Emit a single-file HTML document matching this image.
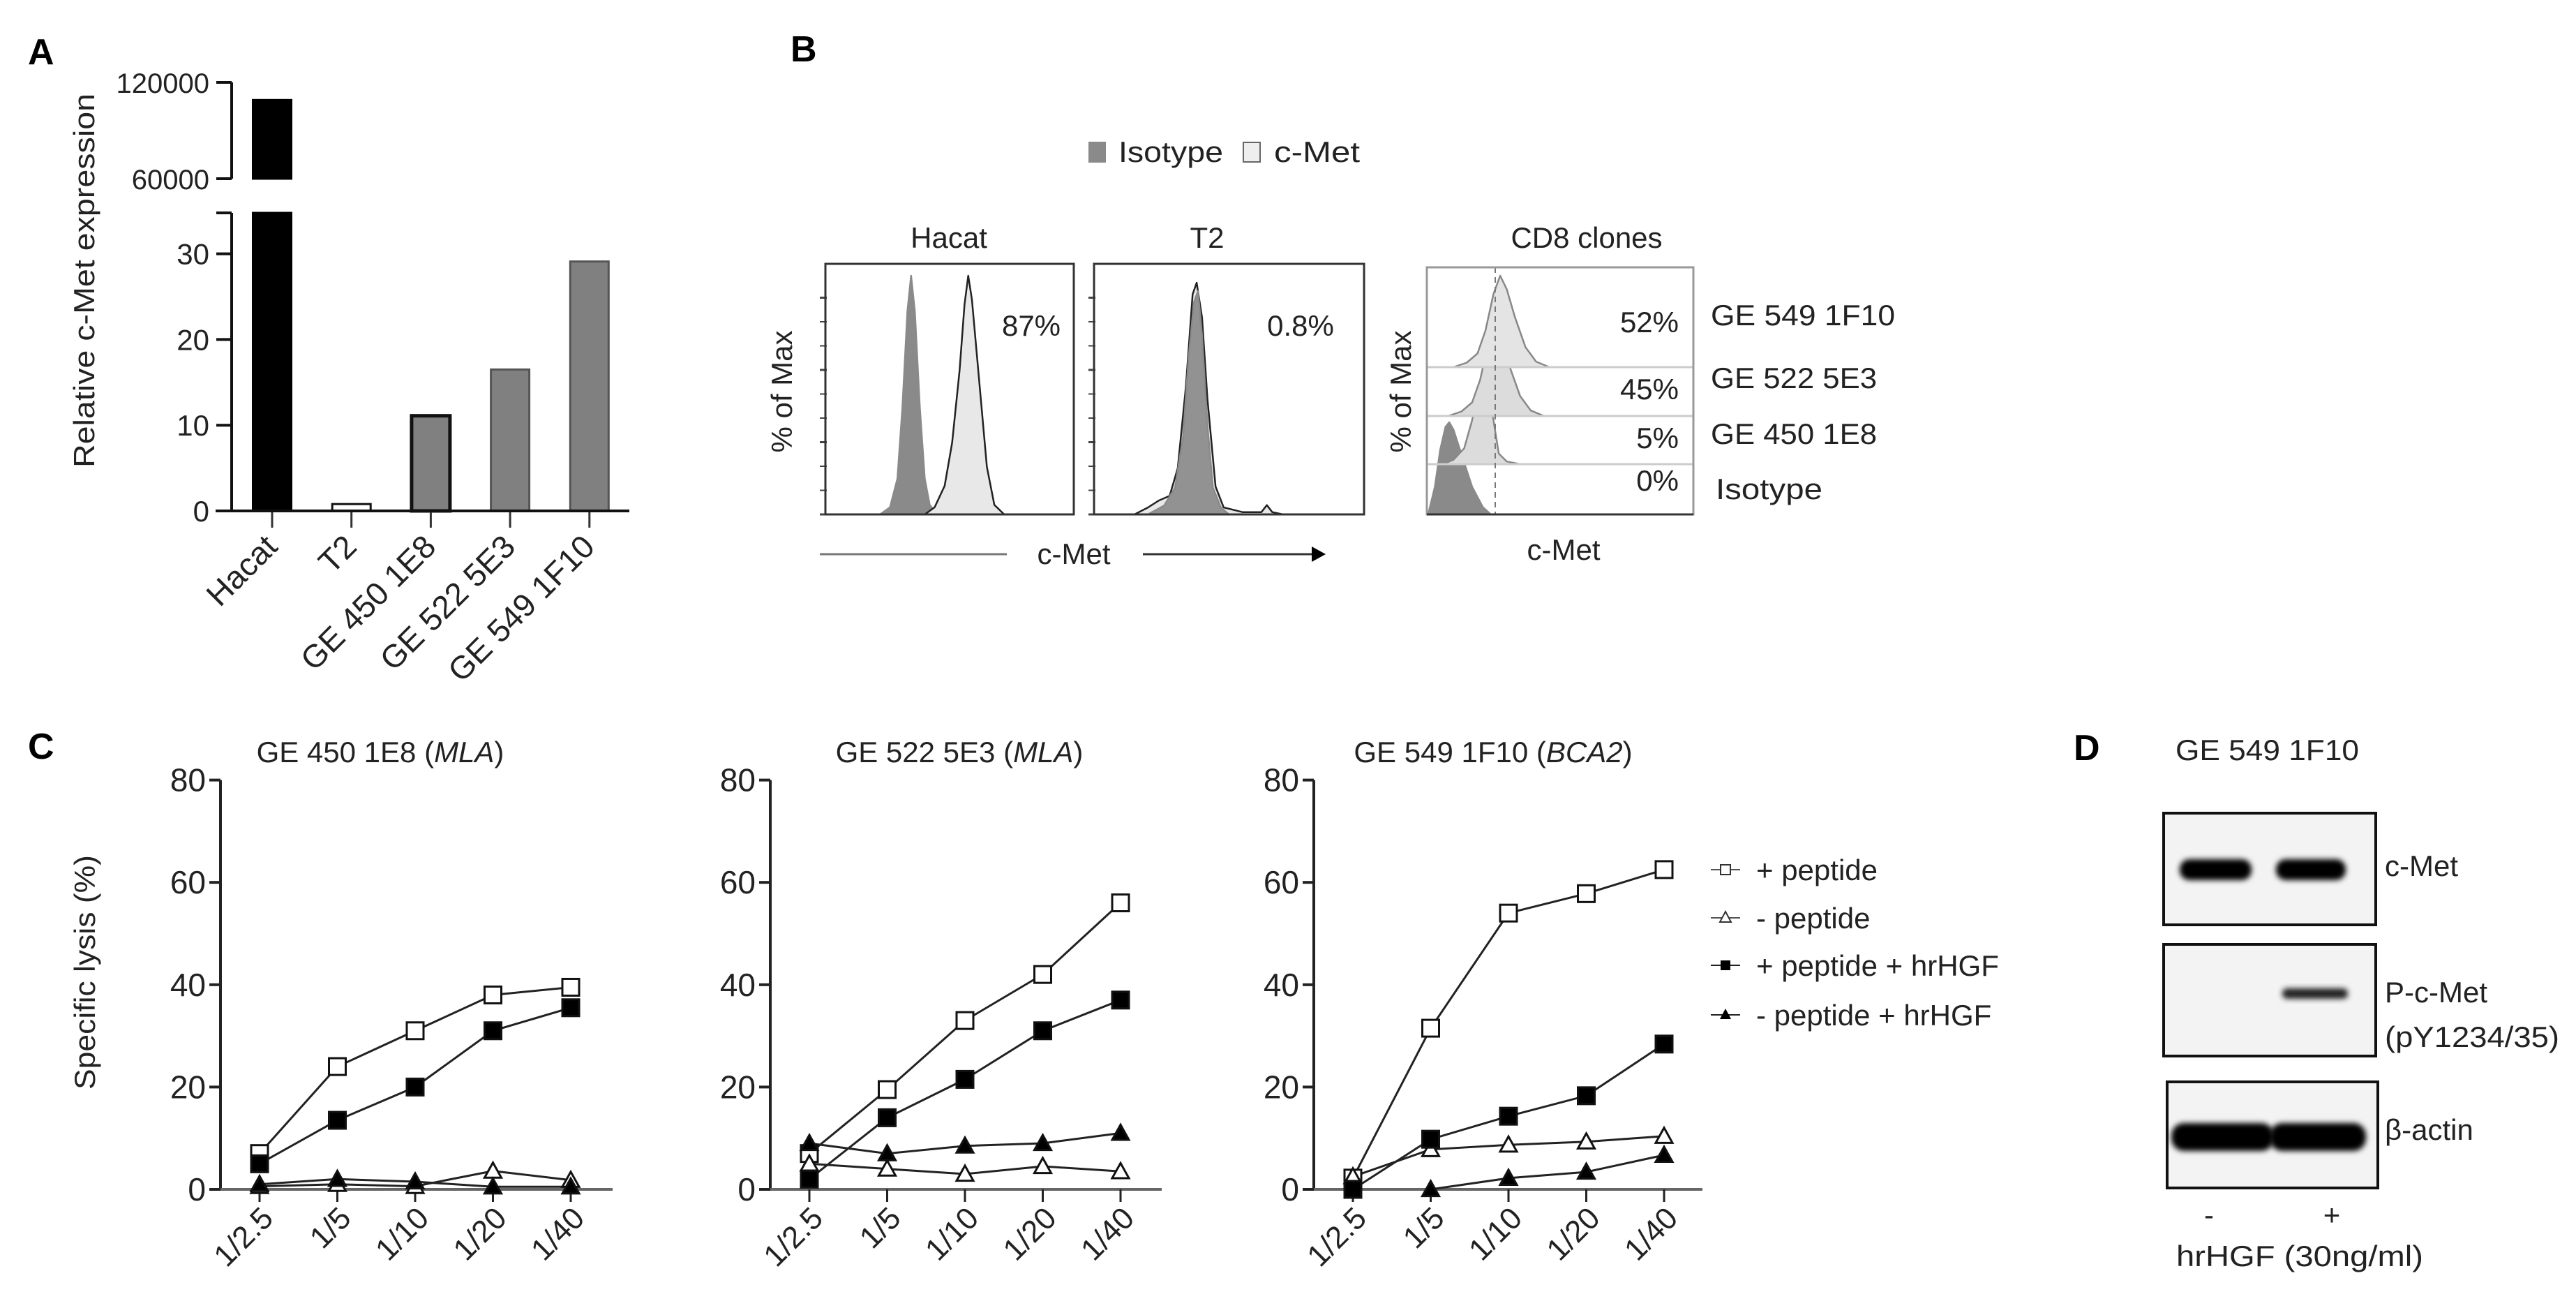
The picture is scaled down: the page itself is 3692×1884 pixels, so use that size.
<!DOCTYPE html>
<html><head><meta charset="utf-8"><style>
html,body{margin:0;padding:0;background:#fff;}
svg{display:block;}
text{font-family:"Liberation Sans",Arial,sans-serif;fill:#222;}
.lt{font-size:42px;}
.pl{font-size:52px;font-weight:bold;fill:#000;}
</style></head><body>
<svg id="fig" width="3692" height="1884" viewBox="0 0 3692 1884" xmlns="http://www.w3.org/2000/svg">
<rect x="0" y="0" width="3692" height="1884" fill="#fff"/>
<defs><filter id="blur" x="-20%" y="-50%" width="140%" height="200%"><feGaussianBlur stdDeviation="4"/></filter></defs>

<text class="pl" x="40" y="92">A</text>
<text class="pl" x="1133" y="88">B</text>
<text class="pl" x="40" y="1087">C</text>
<text class="pl" x="2972" y="1089">D</text>

<g id="panelA">
<text class="lt" transform="translate(135,402) rotate(-90)" text-anchor="middle" textLength="536" lengthAdjust="spacingAndGlyphs">Relative c-Met expression</text>
</g>

<g id="panelB">
<rect x="1560" y="203" width="25" height="30" fill="#8a8a8a"/>
<text class="lt" x="1603" y="232" textLength="150" lengthAdjust="spacingAndGlyphs">Isotype</text>
<rect x="1782" y="204" width="24" height="28" fill="#eee" stroke="#666" stroke-width="2"/>
<text class="lt" x="1826" y="232" textLength="123" lengthAdjust="spacingAndGlyphs">c-Met</text>
<text class="lt" x="1360" y="355" text-anchor="middle">Hacat</text>
<text class="lt" x="1730" y="355" text-anchor="middle">T2</text>
<text class="lt" x="2274" y="355" text-anchor="middle">CD8 clones</text>
<text class="lt" transform="translate(1135,561) rotate(-90)" text-anchor="middle">% of Max</text>
<text class="lt" transform="translate(2022,561) rotate(-90)" text-anchor="middle">% of Max</text>
<text class="lt" x="1478" y="481" text-anchor="middle">87%</text>
<text class="lt" x="1864" y="481" text-anchor="middle">0.8%</text>
<line x1="1175" y1="794" x2="1443" y2="794" stroke="#777" stroke-width="3"/>
<text class="lt" x="1539" y="808" text-anchor="middle">c-Met</text>
<line x1="1638" y1="794" x2="1885" y2="794" stroke="#333" stroke-width="3"/>
<polygon points="1880,783 1900,794 1880,805" fill="#000"/>
<text class="lt" x="2241" y="802" text-anchor="middle">c-Met</text>
<text class="lt" x="2406" y="476" text-anchor="end">52%</text>
<text class="lt" x="2406" y="572" text-anchor="end">45%</text>
<text class="lt" x="2406" y="642" text-anchor="end">5%</text>
<text class="lt" x="2406" y="703" text-anchor="end">0%</text>
<text class="lt" x="2452" y="466" textLength="264" lengthAdjust="spacingAndGlyphs">GE 549 1F10</text>
<text class="lt" x="2452" y="556" textLength="238" lengthAdjust="spacingAndGlyphs">GE 522 5E3</text>
<text class="lt" x="2452" y="636" textLength="238" lengthAdjust="spacingAndGlyphs">GE 450 1E8</text>
<text class="lt" x="2459" y="715" textLength="153" lengthAdjust="spacingAndGlyphs">Isotype</text>
</g>

<g id="panelC">
<text class="lt" transform="translate(136,1393) rotate(-90)" text-anchor="middle" textLength="336" lengthAdjust="spacingAndGlyphs">Specific lysis (%)</text>
<text class="lt" x="545" y="1092" text-anchor="middle">GE 450 1E8 (<tspan font-style="italic">MLA</tspan>)</text>
<text class="lt" x="1375" y="1092" text-anchor="middle">GE 522 5E3 (<tspan font-style="italic">MLA</tspan>)</text>
<text class="lt" x="2140" y="1092" text-anchor="middle">GE 549 1F10 (<tspan font-style="italic">BCA2</tspan>)</text>
<g>
<line x1="2452" y1="1246" x2="2494" y2="1246" stroke="#555" stroke-width="2"/>
<rect x="2466" y="1239" width="14" height="14" fill="#fff" stroke="#333" stroke-width="2"/>
<text class="lt" x="2517" y="1261">+ peptide</text>
<line x1="2452" y1="1315" x2="2494" y2="1315" stroke="#555" stroke-width="2"/>
<polygon points="2473,1306 2481,1321 2465,1321" fill="#fff" stroke="#333" stroke-width="2"/>
<text class="lt" x="2517" y="1330">- peptide</text>
<line x1="2452" y1="1383" x2="2494" y2="1383" stroke="#222" stroke-width="2"/>
<rect x="2466" y="1376" width="14" height="14" fill="#000"/>
<text class="lt" x="2517" y="1398">+ peptide + hrHGF</text>
<line x1="2452" y1="1454" x2="2494" y2="1454" stroke="#222" stroke-width="2"/>
<polygon points="2473,1445 2481,1460 2465,1460" fill="#000"/>
<text class="lt" x="2517" y="1469">- peptide + hrHGF</text>
</g>
</g>

<g id="panelD">
<text class="lt" x="3118" y="1089" textLength="263" lengthAdjust="spacingAndGlyphs">GE 549 1F10</text>
<rect x="3101" y="1165" width="304" height="160" fill="#f3f3f3" stroke="#111" stroke-width="4"/>
<rect x="3124" y="1231" width="103" height="30" rx="14" fill="#000" filter="url(#blur)"/>
<rect x="3262" y="1231" width="100" height="30" rx="14" fill="#000" filter="url(#blur)"/>
<rect x="3101" y="1353" width="304" height="160" fill="#f3f3f3" stroke="#111" stroke-width="4"/>
<rect x="3271" y="1416" width="94" height="15" rx="7" fill="#222" filter="url(#blur)"/>
<rect x="3106" y="1550" width="302" height="152" fill="#f3f3f3" stroke="#111" stroke-width="4"/>
<rect x="3112" y="1609" width="147" height="40" rx="18" fill="#000" filter="url(#blur)"/>
<rect x="3253" y="1609" width="138" height="40" rx="18" fill="#000" filter="url(#blur)"/>
<text class="lt" x="3418" y="1255">c-Met</text>
<text class="lt" x="3418" y="1436">P-c-Met</text>
<text class="lt" x="3418" y="1500" textLength="250" lengthAdjust="spacingAndGlyphs">(pY1234/35)</text>
<text class="lt" x="3418" y="1633">β-actin</text>
<text class="lt" x="3166" y="1755" text-anchor="middle">-</text>
<text class="lt" x="3342" y="1755" text-anchor="middle">+</text>
<text class="lt" x="3119" y="1814" textLength="354" lengthAdjust="spacingAndGlyphs">hrHGF (30ng/ml)</text>
</g>
</svg>
<script>
const barCategories = ["Hacat", "T2", "GE 450 1E8", "GE 522 5E3", "GE 549 1F10"];
const barValues = [109000, 0.8, 11.1, 16.5, 29.1];
const lowerTicks = [0, 10, 20, 30];
const upperTicks = [60000, 120000];

const dilutions = ["1/2.5", "1/5", "1/10", "1/20", "1/40"];
const yTicksC = [0, 20, 40, 60, 80];
const plusPep1 = [7, 24, 31, 38, 39.5];
const minusPep1 = [0.6, 1, 0.6, 3.6, 1.8];
const plusPepHGF1 = [5, 13.5, 20, 31, 35.5];
const minusPepHGF1 = [1, 2, 1.5, 0.5, 0.5];
const plusPep2 = [7, 19.5, 33, 42, 56];
const minusPep2 = [5, 4, 3, 4.5, 3.5];
const plusPepHGF2 = [2, 14, 21.5, 31, 37];
const minusPepHGF2 = [9, 7, 8.5, 9, 11];
const plusPep3 = [2.2, 31.5, 54, 57.8, 62.5];
const minusPep3 = [2.5, 7.8, 8.7, 9.3, 10.4];
const plusPepHGF3 = [0, 9.8, 14.3, 18.3, 28.4];
const minusPepHGF3 = [null, 0, 2.2, 3.4, 6.7];

const hacatIsoX = [22, 26, 29, 31, 33, 34.5, 36, 38, 40, 42, 45];
const hacatIsoH = [0, 3, 15, 45, 85, 100, 85, 45, 15, 4, 0];
const hacatMetX = [40, 44, 48, 51, 54, 56, 57.5, 59, 62, 65, 68, 72];
const hacatMetH = [0, 3, 12, 30, 60, 88, 100, 90, 55, 20, 4, 0];
const t2IsoX = [20, 26, 30, 33, 35, 37, 38.5, 40, 42, 44, 47, 50];
const t2IsoH = [0, 4, 12, 35, 70, 95, 100, 80, 40, 12, 3, 0];
const t2MetX = [15, 20, 24, 28, 31, 34, 36.5, 38, 40, 42, 45, 48, 55, 62, 64, 66, 70];
const t2MetH = [0, 3, 6, 8, 20, 55, 95, 100, 85, 50, 12, 3, 1, 1, 4, 1, 0];
const cd8F10X = [10, 15, 19, 22, 25, 27.5, 30, 33, 37, 41, 46];
const cd8F10H = [0, 5, 15, 40, 80, 100, 85, 55, 22, 6, 0];
const cd8E3X = [8, 13, 17, 20, 23, 25.6, 28, 31, 35, 39, 44];
const cd8E3H = [0, 5, 15, 40, 80, 100, 85, 55, 22, 6, 0];
const cd8E8X = [6, 10, 14, 17, 19, 21.2, 23, 25, 27, 30, 35];
const cd8E8H = [0, 5, 18, 50, 80, 100, 90, 50, 12, 3, 0];
const cd8IsoX = [0.5, 3, 5, 7, 8.4, 10, 13, 17, 21, 24];
const cd8IsoH = [0, 30, 70, 95, 100, 92, 65, 30, 8, 0];

const NS = "http://www.w3.org/2000/svg";
function mk(tag, parent, attrs) {
  const e = document.createElementNS(NS, tag);
  for (const k in attrs) e.setAttribute(k, attrs[k]);
  parent.appendChild(e);
  return e;
}

const gA = document.getElementById("panelA");
const A = { axisX: 332, x0: 390, step: 113.7, bw: 55, y0: 732, pxPerUnit: 12.28, lowTop: 305, up60: 256, pxPer60k: 138 };
const yLow = v => A.y0 - v * A.pxPerUnit;
const yUp = v => A.up60 - (v - 60000) / 60000 * A.pxPer60k;
const xA = i => A.x0 + i * A.step;

barValues.forEach((v, i) => {
  const fill = i === 0 ? "#000" : (i === 1 ? "#fff" : "#808080");
  const stroke = i === 0 ? "#000" : (i === 2 ? "#111" : (i === 1 ? "#111" : "#555"));
  if (v > 35) {
    const lo = mk("rect", gA, { x: xA(i) - A.bw / 2, y: A.lowTop, width: A.bw, height: A.y0 - A.lowTop, fill: fill, stroke: stroke, "stroke-width": 3 });
    
    
    const up = mk("rect", gA, { x: xA(i) - A.bw / 2, y: yUp(v), width: A.bw, height: yUp(60000) - yUp(v), fill: fill, stroke: stroke, "stroke-width": 3 });
    
    
  } else {
    const r = mk("rect", gA, { x: xA(i) - A.bw / 2, y: yLow(v), width: A.bw, height: A.y0 - yLow(v), fill: fill, stroke: stroke, "stroke-width": i === 2 ? 5 : 3 });
    
    
  }
  const t = mk("line", gA, { x1: xA(i), y1: A.y0, x2: xA(i), y2: A.y0 + 24, stroke: "#333", "stroke-width": 3 });
  
  
  const ax = xA(i) + 10, ay = A.y0 + 54;
  const lb = mk("text", gA, { x: ax, y: ay, "text-anchor": "end", transform: "rotate(-45 " + ax + " " + ay + ")", "font-size": "46" });
  lb.textContent = barCategories[i];
  
  
});
const axL = mk("line", gA, { x1: A.axisX, y1: A.lowTop, x2: A.axisX, y2: A.y0, stroke: "#111", "stroke-width": 4 });


const axU = mk("line", gA, { x1: A.axisX, y1: yUp(120000), x2: A.axisX, y2: yUp(60000), stroke: "#111", "stroke-width": 4 });


const capT = mk("line", gA, { x1: A.axisX - 22, y1: A.lowTop, x2: A.axisX, y2: A.lowTop, stroke: "#111", "stroke-width": 4 });


const axX = mk("line", gA, { x1: 309, y1: A.y0, x2: 902, y2: A.y0, stroke: "#111", "stroke-width": 4 });


lowerTicks.forEach(v => {
  const t = mk("line", gA, { x1: A.axisX - 22, y1: yLow(v), x2: A.axisX, y2: yLow(v), stroke: "#111", "stroke-width": 4 });
  
  
  const l = mk("text", gA, { x: A.axisX - 32, y: yLow(v) + 15, "text-anchor": "end", "font-size": "42" });
  l.textContent = v;
  
  
});
upperTicks.forEach(v => {
  const t = mk("line", gA, { x1: A.axisX - 22, y1: yUp(v), x2: A.axisX, y2: yUp(v), stroke: "#111", "stroke-width": 4 });
  
  
  const l = mk("text", gA, { x: A.axisX - 32, y: yUp(v) + 15, "text-anchor": "end", "font-size": "40" });
  l.textContent = v;
  
  
});

const gB = document.getElementById("panelB");
function histPath(box, xs, hs, base, height) {
  const sx = v => box.x + v / 100 * box.w;
  const sy = h => base - h / 100 * height;
  let d = "M" + sx(xs[0]) + "," + base;
  xs.forEach((x, i) => { d += " L" + sx(x).toFixed(1) + "," + sy(hs[i]).toFixed(1); });
  d += " L" + sx(xs[xs.length - 1]) + "," + base + " Z";
  return d;
}
function drawBox(box, name) {
  const r = mk("rect", gB, { x: box.x, y: box.y, width: box.w, height: box.h, fill: "none", stroke: "#333", "stroke-width": 3 });
  
  
}
function drawHist(box, xs, hs, base, height, fill, stroke, name) {
  const p = mk("path", gB, { d: histPath(box, xs, hs, base, height), fill: fill, stroke: stroke, "stroke-width": 2.5, "stroke-linejoin": "round" });
  
  
}
const boxH = { x: 1183, y: 378, w: 356, h: 359 };
const boxT = { x: 1568, y: 378, w: 387, h: 359 };
const boxC = { x: 2045, y: 383, w: 382, h: 354 };
[boxH, boxT].forEach(bx => {
  for (let j = 0; j < 10; j++) {
    const y = bx.y + bx.h - j * 34.5;
    const t = mk("line", gB, { x1: bx.x - 8, y1: y, x2: bx.x + 2, y2: y, stroke: "#444", "stroke-width": j % 3 === 0 ? 3 : 2 });
    
    
  }
});
drawHist(boxH, hacatIsoX, hacatIsoH, 737, 342, "#8a8a8a", "#8a8a8a", "hist-hacat-isotype");
drawHist(boxH, hacatMetX, hacatMetH, 737, 342, "#e8e8e8", "#222", "hist-hacat-cmet");
drawHist(boxT, t2MetX, t2MetH, 737, 332, "#e8e8e8", "#222", "hist-t2-cmet");
drawHist(boxT, t2IsoX, t2IsoH, 737, 320, "rgba(130,130,130,0.85)", "#8a8a8a", "hist-t2-isotype");
drawBox(boxH, "plot-frame-hacat");
drawBox(boxT, "plot-frame-t2");
const rowBase = [526, 596, 665, 737];
drawHist(boxC, cd8IsoX, cd8IsoH, rowBase[3], 132, "#8a8a8a", "#8a8a8a", "hist-cd8-isotype");
drawHist(boxC, cd8E8X, cd8E8H, rowBase[2], 126, "#dcdcdc", "#888", "hist-cd8-1e8");
drawHist(boxC, cd8E3X, cd8E3H, rowBase[1], 130, "#dcdcdc", "#888", "hist-cd8-5e3");
drawHist(boxC, cd8F10X, cd8F10H, rowBase[0], 131, "#e4e4e4", "#888", "hist-cd8-1f10");
rowBase.slice(0, 3).forEach(y => {
  const l = mk("line", gB, { x1: boxC.x, y1: y, x2: boxC.x + boxC.w, y2: y, stroke: "#ccc", "stroke-width": 3 });
  
  
});
const dash = mk("line", gB, { x1: 2143, y1: boxC.y, x2: 2143, y2: 737, stroke: "#777", "stroke-width": 2, "stroke-dasharray": "8,6" });


const fc = mk("rect", gB, { x: boxC.x, y: boxC.y, width: boxC.w, height: boxC.h, fill: "none", stroke: "#999", "stroke-width": 3 });


const fcb = mk("line", gB, { x1: boxC.x, y1: 737, x2: boxC.x + boxC.w, y2: 737, stroke: "#333", "stroke-width": 3 });



const gC = document.getElementById("panelC");
const charts = [
  { axisX: 316, x0: 372, end: 878, s: [plusPep1, minusPep1, plusPepHGF1, minusPepHGF1], id: "1e8" },
  { axisX: 1104, x0: 1160, end: 1665, s: [plusPep2, minusPep2, plusPepHGF2, minusPepHGF2], id: "5e3" },
  { axisX: 1883, x0: 1939, end: 2440, s: [plusPep3, minusPep3, plusPepHGF3, minusPepHGF3], id: "1f10" }
];
const C = { y0: 1704, pxPerUnit: 7.33, step: 111.5, ms: 24 };
const yC = v => C.y0 - v * C.pxPerUnit;
const seriesNames = ["plus-peptide", "minus-peptide", "plus-peptide-hrhgf", "minus-peptide-hrhgf"];
const seriesFill = ["#fff", "#fff", "#000", "#000"];
const seriesShape = ["sq", "tri", "sq", "tri"];
charts.forEach(ch => {
  const xC = i => ch.x0 + i * C.step;
  const ya = mk("line", gC, { x1: ch.axisX, y1: yC(80), x2: ch.axisX, y2: C.y0, stroke: "#222", "stroke-width": 4 });
  
  
  const xa = mk("line", gC, { x1: ch.axisX - 16, y1: C.y0, x2: ch.end, y2: C.y0, stroke: "#666", "stroke-width": 4 });
  
  
  yTicksC.forEach(v => {
    const t = mk("line", gC, { x1: ch.axisX - 16, y1: yC(v), x2: ch.axisX, y2: yC(v), stroke: "#222", "stroke-width": 4 });
    
    
    const l = mk("text", gC, { x: ch.axisX - 21, y: yC(v) + 16, "text-anchor": "end", "font-size": "46" });
    l.textContent = v;
    
    
  });
  dilutions.forEach((d, i) => {
    const t = mk("line", gC, { x1: xC(i), y1: C.y0, x2: xC(i), y2: C.y0 + 18, stroke: "#222", "stroke-width": 3 });
    
    
    const ax = xC(i) + 22, ay = C.y0 + 44;
    const l = mk("text", gC, { x: ax, y: ay, "text-anchor": "end", transform: "rotate(-45 " + ax + " " + ay + ")", "font-size": "44" });
    l.textContent = d;
    
    
  });
  ch.s.forEach((vals, k) => {
    let d = "";
    vals.forEach((v, i) => { if (v !== null) d += (d ? " L" : "M") + xC(i) + "," + yC(v).toFixed(1); });
    const p = mk("path", gC, { d: d, fill: "none", stroke: "#222", "stroke-width": 3 });
    
    
  });
  ch.s.forEach((vals, k) => {
    vals.forEach((v, i) => {
      if (v === null) return;
      const cx = xC(i), cy = yC(v), h = C.ms / 2;
      let m;
      if (seriesShape[k] === "sq") {
        m = mk("rect", gC, { x: cx - h, y: cy - h, width: C.ms, height: C.ms, fill: seriesFill[k], stroke: "#111", "stroke-width": 3 });
      } else {
        m = mk("polygon", gC, { points: cx + "," + (cy - h) + " " + (cx + h) + "," + (cy + h * 0.8) + " " + (cx - h) + "," + (cy + h * 0.8), fill: seriesFill[k], stroke: "#111", "stroke-width": 3 });
      }
      
      
    });
  });
});
</script>
</body></html>
